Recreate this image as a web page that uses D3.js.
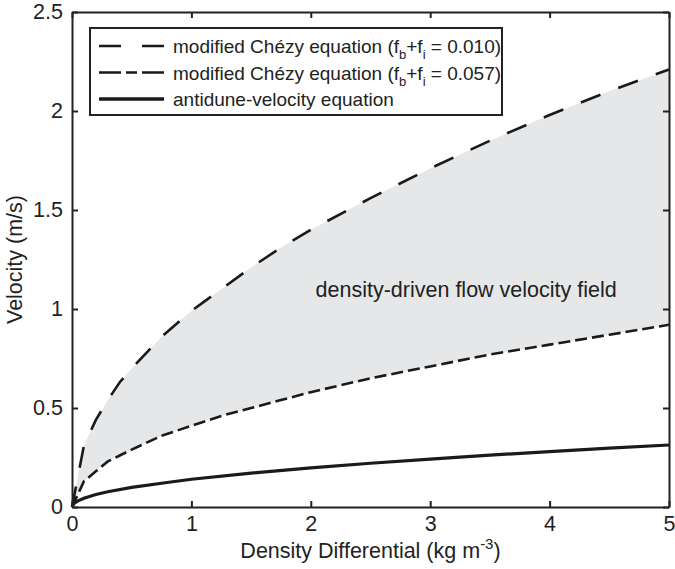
<!DOCTYPE html>
<html>
<head>
<meta charset="utf-8">
<script src="https://cdn.jsdelivr.net/npm/d3@7"></script>
<style>
  body { margin: 0; background: #fff; }
  svg text { font-family: "Liberation Sans", Arial, Helvetica, sans-serif; fill: #222; }
</style>
</head>
<body>
<script>
// density differential (kg m^-3)
var xVals = [0, 0.1, 0.2, 0.3, 0.4, 0.5, 0.75, 1, 1.25, 1.5, 1.75, 2, 2.5, 3, 3.5, 4, 4.5, 5];
// modified Chezy, fb+fi = 0.010
var chezyLow = [0, 0.31, 0.44, 0.54, 0.63, 0.70, 0.86, 0.99, 1.10, 1.21, 1.31, 1.40, 1.56, 1.71, 1.85, 1.98, 2.10, 2.21];
// modified Chezy, fb+fi = 0.057
var chezyHigh = [0, 0.13, 0.18, 0.23, 0.26, 0.29, 0.36, 0.41, 0.46, 0.50, 0.54, 0.58, 0.65, 0.71, 0.77, 0.82, 0.87, 0.92];
// antidune-velocity equation
var antiX = [0, 0.02, 0.05, 0.1, 0.2, 0.3, 0.5, 0.75, 1, 1.5, 2, 2.5, 3, 3.5, 4, 4.5, 5];
var antidune = [0, 0.02, 0.031, 0.044, 0.063, 0.077, 0.099, 0.12, 0.14, 0.171, 0.198, 0.221, 0.242, 0.262, 0.28, 0.297, 0.313];

var xTicks = [0, 1, 2, 3, 4, 5];
var yTicks = [0, 0.5, 1, 1.5, 2, 2.5];

var margin = {top: 12, right: 6, bottom: 62, left: 72},
    width = 675 - margin.left - margin.right,
    height = 569 - margin.top - margin.bottom;

var svg = d3.select("body").append("svg")
            .attr("width", 675)
            .attr("height", 569);

var g = svg.append("g")
           .attr("transform", "translate(" + margin.left + "," + margin.top + ")");

var x = d3.scaleLinear().domain([0, 5]).range([0, width]);
var y = d3.scaleLinear().domain([0, 2.5]).range([height, 0]);

// shaded field between the two Chezy curves
var band = xVals.map(function(d, i) { return {x: d, lo: chezyHigh[i], hi: chezyLow[i]}; });
var area = d3.area()
             .x(function(d) { return x(d.x); })
             .y0(function(d) { return y(d.lo); })
             .y1(function(d) { return y(d.hi); });
g.append("path")
 .datum(band)
 .attr("d", area)
 .style("fill", "#e6e7e8");

g.append("text")
 .attr("x", x(2.04))
 .attr("y", y(1.06))
 .style("font-size", "21.5px")
 .text("density-driven flow velocity field");

var line = d3.line()
             .x(function(d) { return x(d[0]); })
             .y(function(d) { return y(d[1]); });

g.append("path")
 .datum(d3.zip(xVals, chezyLow))
 .attr("d", line)
 .style("fill", "none")
 .style("stroke", "#1a1a1a")
 .style("stroke-width", 2.6)
 .style("stroke-dasharray", "21,19");

g.append("path")
 .datum(d3.zip(xVals, chezyHigh))
 .attr("d", line)
 .style("fill", "none")
 .style("stroke", "#1a1a1a")
 .style("stroke-width", 2.6)
 .style("stroke-dasharray", "12,5");

g.append("path")
 .datum(d3.zip(antiX, antidune))
 .attr("d", line)
 .style("fill", "none")
 .style("stroke", "#1a1a1a")
 .style("stroke-width", 3.2);

// axes, ticks inward on all four sides
var fmt = function(d) { return String(d); };
var xAxis = d3.axisBottom(x).tickValues(xTicks).tickSizeInner(-6).tickSizeOuter(0).tickPadding(9).tickFormat(fmt);
var yAxis = d3.axisLeft(y).tickValues(yTicks).tickSizeInner(-6).tickSizeOuter(0).tickPadding(9).tickFormat(fmt);

var gx = g.append("g").attr("transform", "translate(0," + height + ")").call(xAxis);
var gy = g.append("g").call(yAxis);
var gt = g.append("g").call(d3.axisTop(x).tickValues(xTicks).tickSizeInner(-6).tickSizeOuter(0).tickFormat(""));
var gr = g.append("g").attr("transform", "translate(" + width + ",0)")
          .call(d3.axisRight(y).tickValues(yTicks).tickSizeInner(-6).tickSizeOuter(0).tickFormat(""));

[gx, gy, gt, gr].forEach(function(a) {
  a.select(".domain").style("stroke", "#222").style("stroke-width", 2);
  a.selectAll(".tick line").style("stroke", "#222").style("stroke-width", 2);
  a.selectAll(".tick text").style("font-size", "21.5px").style("fill", "#222")
   .style("font-family", "'Liberation Sans', Arial, sans-serif");
});

// axis labels
var xl = g.append("text")
          .attr("x", width / 2)
          .attr("y", height + 51)
          .attr("text-anchor", "middle")
          .style("font-size", "21.5px");
xl.append("tspan").text("Density Differential (kg m");
xl.append("tspan").attr("dy", -9).style("font-size", "15px").text("-3");
xl.append("tspan").attr("dy", 9).text(")");

g.append("text")
 .attr("transform", "rotate(-90)")
 .attr("x", -height / 2)
 .attr("y", -50)
 .attr("text-anchor", "middle")
 .style("font-size", "21.5px")
 .text("Velocity (m/s)");

// legend
var legend = g.append("g").attr("transform", "translate(18,16)");
legend.append("rect")
      .attr("width", 412)
      .attr("height", 87)
      .style("fill", "#fff")
      .style("stroke", "#222")
      .style("stroke-width", 2);

var legendItems = [
  {dash: "22,21,22", w: 2.6, label: ["modified Chézy equation (f", "b", "+f", "i", " = 0.010)"]},
  {dash: "22,5,11,5,22", w: 2.6, label: ["modified Chézy equation (f", "b", "+f", "i", " = 0.057)"]},
  {dash: null, w: 3.6, label: ["antidune-velocity equation"]}
];

legendItems.forEach(function(d, i) {
  var ly = 18 + i * 26.5;
  legend.append("line")
        .attr("x1", 9).attr("x2", 74)
        .attr("y1", ly).attr("y2", ly)
        .style("stroke", "#1a1a1a")
        .style("stroke-width", d.w)
        .style("stroke-dasharray", d.dash);
  var t = legend.append("text")
                .attr("x", 83)
                .attr("y", ly + 7)
                .style("font-size", "19px");
  d.label.forEach(function(s, k) {
    var sp = t.append("tspan").text(s);
    if (k === 1 || k === 3) sp.attr("dy", 6).style("font-size", "13px");
    if (k === 2 || k === 4) sp.attr("dy", -6);
  });
});
</script>
</body>
</html>
